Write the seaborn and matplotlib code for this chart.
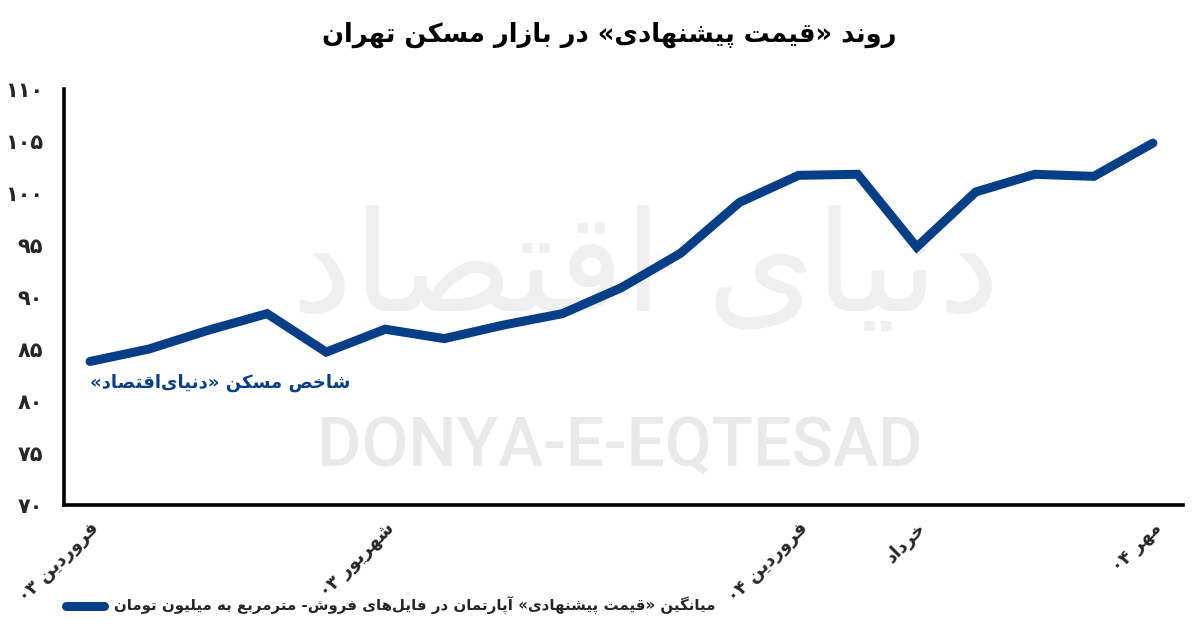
import numpy as np
import pandas as pd
import matplotlib
matplotlib.use("Agg")
import matplotlib.pyplot as plt
import seaborn as sns

# ==========================================
# DATA
# ==========================================
months_idx = list(range(19))  # Farvardin 1403 .. Mehr 1404, monthly
offer_price = [83.8, 85.0, 86.8, 88.4, 84.7, 86.9, 86.0, 87.3, 88.4, 90.9,
               94.2, 99.1, 101.7, 101.8, 94.8, 100.1, 101.8, 101.6, 104.8]
tick_positions = [0, 5, 12, 14, 18]
tick_labels = ["فروردین ۰۳", "شهریور ۰۳", "فروردین ۰۴", "خرداد", "مهر ۰۴"]
y_ticks = [70, 75, 80, 85, 90, 95, 100, 105, 110]

title_text = "روند «قیمت پیشنهادی» در بازار مسکن تهران"
series_note = "شاخص مسکن «دنیای\u200cاقتصاد»"
legend_text = "میانگین «قیمت پیشنهادی» آپارتمان در فایل\u200cهای فروش- مترمربع به میلیون تومان"
watermark_fa = "دنیای اقتصاد"
watermark_en = "DONYA-E-EQTESAD"

LINE_BLUE = "#063e88"

# ==========================================
# tiny persian shaper + bidi (matplotlib has no shaping)
# ==========================================
# letter: (isolated, final, initial, medial) ; None = letter does not join forward
FORMS = {
    "ا": ("\uFE8D", "\uFE8E", None, None),
    "آ": ("\uFE81", "\uFE82", None, None),
    "ب": ("\uFE8F", "\uFE90", "\uFE91", "\uFE92"),
    "پ": ("\uFB56", "\uFB57", "\uFB58", "\uFB59"),
    "ت": ("\uFE95", "\uFE96", "\uFE97", "\uFE98"),
    "خ": ("\uFEA5", "\uFEA6", "\uFEA7", "\uFEA8"),
    "د": ("\uFEA9", "\uFEAA", None, None),
    "ر": ("\uFEAD", "\uFEAE", None, None),
    "ز": ("\uFEAF", "\uFEB0", None, None),
    "س": ("\uFEB1", "\uFEB2", "\uFEB3", "\uFEB4"),
    "ش": ("\uFEB5", "\uFEB6", "\uFEB7", "\uFEB8"),
    "ص": ("\uFEB9", "\uFEBA", "\uFEBB", "\uFEBC"),
    "ع": ("\uFEC9", "\uFECA", "\uFECB", "\uFECC"),
    "ف": ("\uFED1", "\uFED2", "\uFED3", "\uFED4"),
    "ق": ("\uFED5", "\uFED6", "\uFED7", "\uFED8"),
    "ک": ("\uFB8E", "\uFB8F", "\uFB90", "\uFB91"),
    "گ": ("\uFB92", "\uFB93", "\uFB94", "\uFB95"),
    "ل": ("\uFEDD", "\uFEDE", "\uFEDF", "\uFEE0"),
    "م": ("\uFEE1", "\uFEE2", "\uFEE3", "\uFEE4"),
    "ن": ("\uFEE5", "\uFEE6", "\uFEE7", "\uFEE8"),
    "ه": ("\uFEE9", "\uFEEA", "\uFEEB", "\uFEEC"),
    "و": ("\uFEED", "\uFEEE", None, None),
    "ی": ("\uFBFC", "\uFBFD", "\uFBFE", "\uFBFF"),
}
MIRROR = {"«": "»", "»": "«", "(": ")", ")": "("}


def shape(text):
    out = []
    for i, ch in enumerate(text):
        if ch not in FORMS:
            out.append(ch)
            continue
        prev = text[i - 1] if i > 0 else ""
        nxt = text[i + 1] if i + 1 < len(text) else ""
        join_prev = prev in FORMS and FORMS[prev][2] is not None
        join_next = FORMS[ch][2] is not None and nxt in FORMS
        iso, fin, ini, med = FORMS[ch]
        if join_prev and join_next:
            out.append(med)
        elif join_prev:
            out.append(fin)
        elif join_next:
            out.append(ini)
        else:
            out.append(iso)
    return "".join(out).replace("\u200c", "")


def is_ltr(ch):
    return ch.isascii() and ch.isalnum() or "\u06F0" <= ch <= "\u06F9"


def fa(text):
    s = shape(text)
    runs = []
    for ch in s:
        kind = is_ltr(ch)
        if runs and runs[-1][0] == kind:
            runs[-1][1].append(ch)
        else:
            runs.append((kind, [ch]))
    vis = []
    for kind, chars in reversed(runs):
        if kind:
            vis.append("".join(chars))
        else:
            vis.append("".join(MIRROR.get(c, c) for c in reversed(chars)))
    return "".join(vis)


def fa_digits(n):
    return str(n).translate(str.maketrans("0123456789", "۰۱۲۳۴۵۶۷۸۹"))


# ==========================================
# PLOT
# ==========================================
sns.set_theme(style="white")
plt.rcParams["font.family"] = ["DejaVu Sans"]
plt.rcParams["font.weight"] = "bold"

df = pd.DataFrame({"month": months_idx, "price": offer_price})

fig = plt.figure(figsize=(12, 6.38), dpi=100)
ax = fig.add_axes([64 / 1200, 1 - 505 / 638, (1183 - 64) / 1200, (505 - 89) / 638])

# watermark behind everything
ax.text(0.52, 0.56, fa(watermark_fa), transform=ax.transAxes, fontsize=100,
        color="#efefef", ha="center", va="center", zorder=0, fontweight="normal")
ax.text(0.497, 0.14, watermark_en, transform=ax.transAxes, fontsize=49,
        color="#e9e9e9", ha="center", va="center", zorder=0,
        family="Roboto", fontweight="medium")

sns.lineplot(data=df, x="month", y="price", ax=ax, color=LINE_BLUE,
             linewidth=6.5, label=fa(legend_text), zorder=3)
for ln in ax.get_lines():
    ln.set_solid_capstyle("round")
    ln.set_solid_joinstyle("miter")

ax.set_xlim(-0.44, 18.51)
ax.set_ylim(70, 110)

ax.set_xticks(tick_positions)
ax.set_xticklabels([fa(t) for t in tick_labels], rotation=45, ha="right",
                   rotation_mode="anchor", fontsize=13, fontweight="bold")
ax.set_yticks(y_ticks)
ax.set_yticklabels([fa_digits(v) for v in y_ticks], fontsize=15, fontweight="bold")
ax.tick_params(axis="y", length=0, pad=15)
ax.tick_params(axis="x", length=0, pad=10)

ax.set_xlabel("")
ax.set_ylabel("")
for side in ["top", "right"]:
    ax.spines[side].set_visible(False)
for side in ["left", "bottom"]:
    ax.spines[side].set_color("black")
    ax.spines[side].set_linewidth(2.6)

# series note under the first point
ax.text(0, 81.7, fa(series_note), color=LINE_BLUE, fontsize=13,
        fontweight="bold", ha="left", va="center", zorder=4)

fig.text(0.508, 0.945, fa(title_text), fontsize=18.5, fontweight="bold",
         ha="center", va="center", color="black")

ax.legend(loc="center left", bbox_to_anchor=(60 / 1200, 1 - 606 / 638),
          bbox_transform=fig.transFigure, frameon=False, fontsize=10.8,
          handlelength=2.5, handletextpad=0.7, borderaxespad=0)

fig.savefig("out.png", dpi=100, facecolor="white")
